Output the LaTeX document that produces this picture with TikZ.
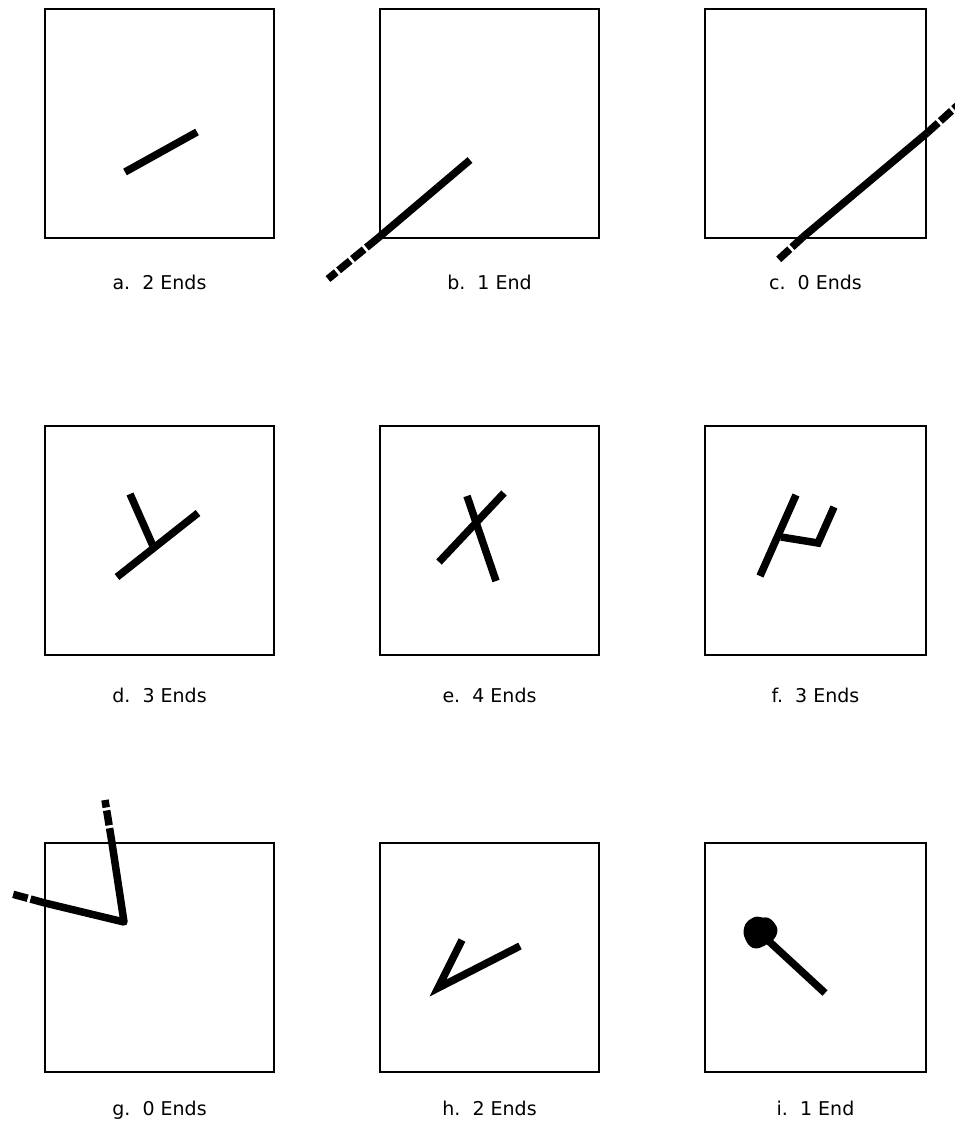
\documentclass[tikz,border=0pt]{standalone}
\usepackage{fontspec}
\setmainfont{DejaVu Sans}
\begin{document}
\begin{tikzpicture}[x=1pt,y=-1pt,
  frame/.style={draw=black,line width=2pt},
  stroke/.style={line width=7.5pt,line cap=butt,line join=miter},
  dashstroke/.style={line width=7.5pt,line cap=butt,dash pattern=on 15pt off 3pt},
  lbl/.style={anchor=base,font=\fontsize{19}{22}\selectfont,inner sep=0pt}]
\useasboundingbox (0,0) rectangle (955,1121);
% boxes
\draw[frame] (45,9) rectangle (274,238);
\draw[frame] (380,9) rectangle (599,238);
\draw[frame] (705,9) rectangle (926,238);
\draw[frame] (45,426) rectangle (274,655);
\draw[frame] (380,426) rectangle (599,655);
\draw[frame] (705,426) rectangle (926,655);
\draw[frame] (45,843) rectangle (274,1072);
\draw[frame] (380,843) rectangle (599,1072);
\draw[frame] (705,843) rectangle (926,1072);
% a
\draw[stroke] (125,172) -- (197,132);
% b
\draw[stroke] (470,160) -- (378,238);
\draw[dashstroke] (378,238) -- (328,279);
% c
\draw[stroke] (803,237) -- (927,133);
\draw[dashstroke] (803,237) -- (778,260);
\draw[dashstroke] (927,133) -- (958,105);
% d
\draw[stroke] (117,577) -- (198,513);
\draw[stroke] (153,546) -- (130,494);
% e
\draw[stroke] (439,562) -- (504,493);
\draw[stroke] (467,496) -- (496,581);
% f
\draw[stroke] (760,576) -- (796,495);
\draw[stroke] (781,537) -- (818,543) -- (834,507);
% g
\draw[stroke,line join=round] (112,843) -- (124,922) -- (45,903);
\draw[dashstroke] (112,843) -- (105,800);
\draw[dashstroke] (45,903) -- (12,894);
% h
\draw[stroke] (520,946) -- (438,988) -- (462,940);
% i
\draw[stroke] (760,933) -- (825,993);
\fill[rounded corners=3pt] (745,924) -- (750,919) -- (757,916) -- (763,918) -- (768,917) -- (774,922) -- (778,929) -- (776,937) -- (771,942) -- (764,946) -- (757,949) -- (750,947) -- (746,941) -- (743,933) -- cycle;
% labels
\node[lbl] (la) at (159.5,289) {a.\ \ 2 Ends};
\node[lbl] (lb) at (489.5,289) {b.\ \ 1 End};
\node[lbl] (lc) at (815.5,289) {c.\ \ 0 Ends};
\node[lbl] (ld) at (159.5,702) {d.\ \ 3 Ends};
\node[lbl] (le) at (489.5,702) {e.\ \ 4 Ends};
\node[lbl] (lf) at (815.5,702) {f.\ \ 3 Ends};
\node[lbl] (lg) at (159.5,1115) {g.\ \ 0 Ends};
\node[lbl] (lh) at (489.5,1115) {h.\ \ 2 Ends};
\node[lbl] (li) at (815.5,1115) {i.\ \ 1 End};
\end{tikzpicture}
\end{document}
